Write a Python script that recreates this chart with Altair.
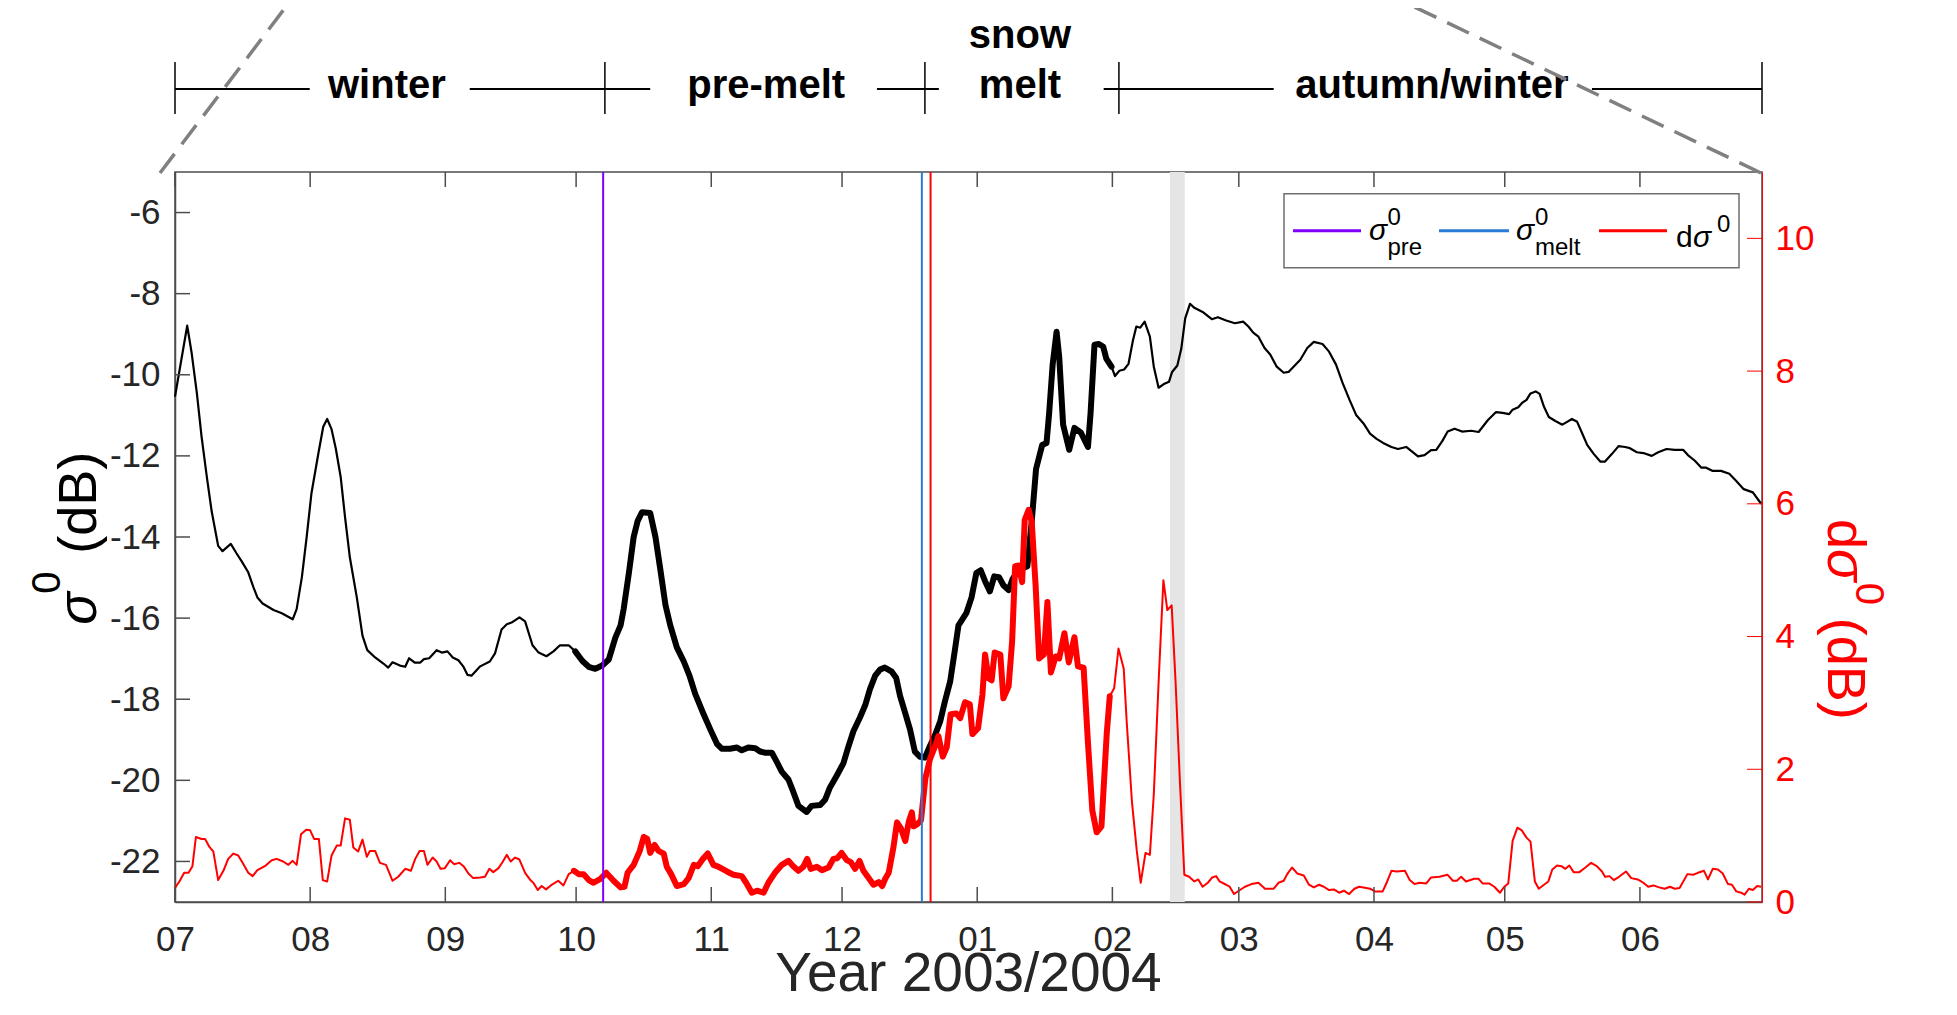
import altair as alt
import pandas as pd

FONT = "Liberation Sans"
AX = "#4d4d4d"
TXT = "#262626"
RED = "#ff0000"
W, H = 1587, 730

BASE = pd.Timestamp("2003-07-01")


def iso(days):
    return [(BASE + pd.Timedelta(days=float(d))).strftime("%Y-%m-%dT%H:%M:%S") + "Z" for d in days]


# ---------------- data (days since 2003-07-01) ----------------
sigma_day = [0, 1.1, 2.8, 3.8, 5.0, 6.1, 7.3, 8.4, 9.9, 10.9, 12.8, 14.1, 15.3, 16.8, 18.0, 18.9, 20.1, 22.6,
             24.5, 27.0, 27.9, 29.1, 30.2, 31.3, 32.9, 34.0, 34.9, 35.9, 36.9, 38.0, 39.0, 40.1, 41.7, 43.0,
             44.1, 45.9, 47.8, 48.9, 49.9, 51.6, 52.8, 53.7, 55.0, 56.2, 57.1, 58.3, 60.0, 61.2, 62.5, 63.7,
             65.0, 66.1, 67.1, 68.0, 70.0, 72.2, 73.4, 74.9, 76.1, 77.2, 79.0, 80.3, 82.0, 83.4, 85.2, 86.8,
             88.3, 90.3, 91.8, 93.4, 94.9, 96.4, 98.0, 99.5, 101.0, 102.2, 102.9, 104.1, 105.2, 106.1, 107.1,
             109.0, 110.2, 111.3, 112.5, 113.6, 115.1, 116.7, 118.0, 119.3, 121.2, 122.8, 124.3, 125.4, 127.3,
             128.9, 130.0, 131.5, 133.1, 134.2, 135.4, 136.9, 138.0, 139.2, 140.7, 141.8, 143.0, 144.9, 146.0,
             148.0, 149.1, 150.2, 151.8, 153.3, 154.4, 155.6, 157.1, 158.3, 159.4, 160.6, 161.7, 162.8, 164.4,
             165.4, 166.3, 167.4, 168.6, 169.7, 170.9, 172.0, 173.2, 174.3, 175.5, 176.6, 177.8, 178.9, 179.7,
             181.5, 182.7, 183.8, 184.8, 185.8, 186.9, 187.9, 189.0, 190.0, 191.2, 192.1, 193.1, 194.3, 195.5,
             196.5, 197.5, 198.9, 199.9, 200.5, 201.3, 202.2, 202.8, 203.7, 205.1, 206.3, 207.8, 209.4, 210.0,
             210.9, 211.9, 212.9, 213.6, 214.8, 215.6, 216.6, 217.7, 218.7, 219.7, 220.5, 221.4, 222.4, 223.6,
             224.5, 225.6, 226.8, 228.0, 228.7, 229.9, 230.8, 231.7, 232.8, 233.8, 235.7, 237.8, 239.2, 241.1,
             243.1, 245.0, 246.2, 247.3, 248.5, 249.9, 251.2, 252.7, 254.3, 255.4, 257.0, 258.1, 259.7, 261.2,
             263.2, 264.7, 266.3, 267.8, 269.4, 270.9, 272.6, 274.1, 275.6, 277.1, 279.0, 280.5, 282.4, 283.6,
             285.1, 286.6, 288.1, 289.3, 290.7, 291.9, 293.5, 295.2, 297.3, 299.0, 301.1, 303.0, 304.5, 306.0,
             306.8, 308.1, 309.0, 310.0, 310.9, 312.1, 313.0, 314.0, 315.1, 316.6, 318.2, 319.3, 320.4, 321.6,
             322.7, 323.9, 325.4, 326.9, 328.0, 329.6, 331.1, 332.6, 333.7, 335.3, 336.8, 338.7, 340.2, 342.1,
             344.0, 345.9, 347.0, 348.6, 350.1, 351.2, 352.7, 354.6, 356.5, 358.1, 359.8, 361.9, 363.8]
sigma_db = [-10.54, -9.85, -8.79, -9.45, -10.44, -11.53, -12.52, -13.36, -14.22, -14.35, -14.17, -14.40, -14.60,
            -14.87, -15.24, -15.49, -15.64, -15.80, -15.88, -16.03, -15.78, -14.99, -14.00, -12.92, -11.93,
            -11.28, -11.09, -11.34, -11.83, -12.52, -13.51, -14.50, -15.49, -16.43, -16.79, -16.97, -17.12,
            -17.22, -17.09, -17.17, -17.20, -16.99, -17.10, -17.10, -17.01, -16.99, -16.79, -16.85, -16.82,
            -16.97, -17.04, -17.19, -17.40, -17.42, -17.19, -17.07, -16.87, -16.28, -16.15, -16.11, -15.98,
            -16.08, -16.67, -16.85, -16.94, -16.82, -16.67, -16.67, -16.82, -17.05, -17.20, -17.25, -17.17,
            -17.02, -16.48, -16.18, -15.78, -14.89, -14.00, -13.61, -13.39, -13.41, -14.00, -14.79, -15.68,
            -16.18, -16.72, -17.07, -17.42, -17.86, -18.36, -18.75, -19.10, -19.22, -19.22, -19.19, -19.26,
            -19.19, -19.21, -19.29, -19.32, -19.32, -19.54, -19.79, -19.98, -20.28, -20.63, -20.78, -20.63,
            -20.61, -20.48, -20.18, -19.88, -19.58, -19.19, -18.79, -18.45, -18.15, -17.75, -17.42, -17.27,
            -17.22, -17.32, -17.47, -17.92, -18.31, -18.75, -19.29, -19.42, -19.44, -19.14, -18.89, -18.55,
            -18.05, -17.56, -16.77, -16.18, -15.88, -15.49, -14.89, -14.82, -15.09, -15.34, -14.97, -14.99,
            -15.19, -15.31, -15.04, -14.87, -14.78, -14.72, -13.61, -12.32, -11.73, -11.68, -10.94, -9.75,
            -8.94, -9.55, -11.23, -11.85, -11.31, -11.43, -11.78, -10.94, -9.26, -9.24, -9.31, -9.60, -9.80,
            -10.03, -9.90, -9.87, -9.73, -9.16, -8.81, -8.84, -8.69, -9.06, -9.80, -10.32, -10.23, -10.17,
            -9.93, -9.77, -9.36, -8.61, -8.25, -8.35, -8.45, -8.63, -8.58, -8.66, -8.73, -8.69, -8.81, -8.96,
            -9.06, -9.34, -9.50, -9.80, -9.95, -9.93, -9.75, -9.63, -9.34, -9.19, -9.24, -9.43, -9.75, -10.20,
            -10.62, -10.99, -11.20, -11.45, -11.58, -11.68, -11.78, -11.83, -11.78, -11.88, -12.01, -11.98,
            -11.86, -11.85, -11.63, -11.40, -11.33, -11.40, -11.38, -11.41, -11.12, -10.92, -10.94, -10.97,
            -10.86, -10.80, -10.69, -10.62, -10.46, -10.41, -10.47, -10.79, -11.04, -11.14, -11.23, -11.16,
            -11.09, -11.16, -11.43, -11.73, -11.95, -12.14, -12.14, -11.95, -11.76, -11.78, -11.81, -11.91,
            -11.93, -12.00, -11.91, -11.83, -11.85, -11.85, -11.98, -12.12, -12.29, -12.29, -12.37, -12.37,
            -12.44, -12.62, -12.82, -12.90, -13.18]

dsigma_day = [0, 1.1, 2.1, 3.1, 4.0, 4.8, 6.1, 6.9, 7.9, 8.8, 9.9, 11.1, 12.2, 13.4, 14.5, 15.5, 16.8, 17.8,
              18.9, 20.6, 22.2, 23.3, 24.8, 26.0, 27.0, 27.9, 28.9, 30.1, 31.0, 31.9, 33.0, 33.9, 34.9, 35.9,
              37.1, 38.0, 39.0, 40.1, 40.9, 42.0, 43.0, 44.0, 44.7, 45.9, 47.0, 48.4, 49.9, 51.2, 52.8, 54.1,
              55.1, 56.1, 57.1, 57.9, 59.1, 60.0, 60.9, 61.9, 63.1, 64.0, 65.2, 66.3, 67.3, 68.4, 70.0, 71.1,
              72.1, 73.0, 74.2, 75.1, 76.1, 77.0, 78.0, 79.0, 80.3, 81.4, 82.3, 83.2, 84.1, 85.1, 86.2, 87.9,
              89.1, 90.3, 91.5, 92.6, 93.7, 94.9, 96.0, 97.6, 98.9, 100.6, 102.2, 103.1, 103.8, 105.2, 106.6,
              107.5, 108.3, 109.0, 110.0, 110.9, 112.1, 112.8, 113.8, 115.1, 116.7, 117.8, 119.0, 119.9, 121.1,
              122.2, 123.5, 124.7, 126.6, 128.1, 130.0, 131.0, 132.3, 133.5, 135.0, 136.1, 137.6, 139.2, 140.7,
              141.8, 143.0, 144.1, 145.0, 145.8, 147.2, 148.4, 149.9, 151.0, 151.9, 152.9, 154.1, 155.0, 156.0,
              157.0, 157.9, 159.1, 160.2, 161.4, 162.2, 162.9, 163.7, 164.8, 165.6, 166.5, 167.5, 168.3, 169.0,
              169.4, 170.2, 171.1, 172.1, 173.2, 174.3, 175.1, 176.1, 177.0, 177.9, 179.2, 180.1, 181.2, 182.3,
              182.9, 184.2, 185.2, 185.8, 186.6, 187.3, 188.0, 189.3, 190.0, 191.2, 192.0, 192.7, 193.5, 194.3,
              194.9, 195.8, 196.5, 197.4, 198.2, 199.3, 200.1, 200.9, 202.0, 202.8, 204.0, 205.0, 206.3, 207.1,
              208.4, 209.4, 210.4, 211.4, 212.5, 213.7, 214.4, 215.4, 216.4, 217.6, 218.3, 219.5, 220.6, 221.5,
              222.6, 223.6, 224.5, 225.6, 226.7, 227.6, 228.6, 229.5, 230.5, 231.5, 232.6, 233.8, 234.7, 235.7,
              236.9, 237.9, 238.8, 239.6, 241.1, 241.9, 242.9, 244.0, 245.4, 246.9, 248.5, 250.0, 252.0, 253.1,
              254.3, 255.1, 256.2, 257.4, 258.9, 260.1, 261.2, 262.4, 263.5, 264.7, 265.8, 267.0, 268.1, 269.3,
              270.5, 271.6, 272.6, 274.1, 275.2, 277.0, 277.9, 279.0, 280.2, 282.1, 283.2, 284.3, 285.5, 287.0,
              288.1, 290.0, 291.9, 293.1, 294.0, 295.0, 296.1, 298.0, 299.0, 299.9, 301.4, 302.6, 303.9, 304.9,
              305.8, 306.8, 307.9, 308.9, 310.0, 310.9, 311.9, 312.8, 314.0, 315.0, 315.9, 317.0, 318.0, 318.9,
              319.8, 320.8, 322.1, 323.5, 324.8, 326.1, 327.3, 328.0, 329.0, 330.0, 331.2, 332.8, 334.0, 335.5,
              336.8, 337.9, 339.1, 340.4, 341.7, 342.9, 344.0, 345.1, 346.9, 348.2, 349.3, 350.7, 351.6, 352.7,
              353.9, 355.0, 356.2, 357.1, 358.1, 359.2, 360.0, 361.0, 361.9, 362.9, 363.8]
dsigma_db = [0.21, 0.32, 0.44, 0.44, 0.54, 0.98, 0.95, 0.95, 0.83, 0.76, 0.33, 0.47, 0.65, 0.73, 0.70, 0.59, 0.44,
             0.39, 0.48, 0.54, 0.63, 0.65, 0.61, 0.56, 0.62, 0.56, 1.02, 1.09, 1.08, 0.95, 0.95, 0.33, 0.31, 0.70,
             0.85, 0.85, 1.26, 1.24, 0.82, 0.76, 0.94, 0.68, 0.77, 0.77, 0.59, 0.56, 0.32, 0.38, 0.50, 0.47, 0.65,
             0.77, 0.77, 0.56, 0.67, 0.61, 0.50, 0.51, 0.63, 0.57, 0.59, 0.53, 0.43, 0.36, 0.37, 0.38, 0.50, 0.45,
             0.51, 0.60, 0.71, 0.61, 0.67, 0.64, 0.44, 0.34, 0.28, 0.18, 0.24, 0.19, 0.25, 0.32, 0.25, 0.42, 0.47,
             0.42, 0.42, 0.33, 0.29, 0.35, 0.44, 0.32, 0.22, 0.23, 0.44, 0.56, 0.77, 0.98, 0.95, 0.74, 0.86, 0.77,
             0.73, 0.53, 0.42, 0.24, 0.27, 0.36, 0.56, 0.54, 0.65, 0.73, 0.56, 0.53, 0.46, 0.41, 0.39, 0.29, 0.14,
             0.17, 0.14, 0.29, 0.44, 0.56, 0.62, 0.54, 0.47, 0.53, 0.65, 0.50, 0.53, 0.48, 0.52, 0.65, 0.66, 0.74,
             0.63, 0.60, 0.50, 0.62, 0.47, 0.36, 0.26, 0.30, 0.24, 0.35, 0.44, 0.83, 1.20, 1.11, 0.92, 1.21, 1.35,
             1.14, 1.17, 1.23, 1.86, 2.16, 2.34, 2.50, 2.19, 2.33, 2.83, 2.84, 2.77, 3.01, 2.98, 2.53, 2.62, 3.13,
             3.73, 3.37, 3.34, 3.76, 3.73, 3.07, 3.25, 3.92, 5.06, 5.07, 4.82, 5.76, 5.91, 5.73, 4.76, 3.67, 3.73,
             4.52, 3.46, 3.70, 3.67, 4.05, 3.61, 3.99, 3.55, 3.53, 2.40, 1.38, 1.05, 1.14, 2.53, 3.10, 3.22, 3.82,
             3.52, 2.70, 1.50, 0.77, 0.29, 0.74, 0.71, 1.62, 3.31, 4.85, 4.40, 4.47, 3.31, 1.80, 0.41, 0.38, 0.31,
             0.34, 0.23, 0.29, 0.37, 0.39, 0.31, 0.26, 0.23, 0.12, 0.17, 0.23, 0.27, 0.29, 0.20, 0.20, 0.29, 0.32,
             0.42, 0.52, 0.43, 0.40, 0.26, 0.22, 0.26, 0.23, 0.18, 0.19, 0.14, 0.17, 0.12, 0.20, 0.23, 0.22, 0.20,
             0.16, 0.16, 0.29, 0.47, 0.46, 0.47, 0.33, 0.27, 0.29, 0.28, 0.37, 0.38, 0.41, 0.32, 0.32, 0.38, 0.31,
             0.35, 0.35, 0.28, 0.28, 0.23, 0.14, 0.23, 0.28, 0.92, 1.12, 1.08, 0.97, 0.91, 0.31, 0.20, 0.26, 0.31,
             0.49, 0.55, 0.54, 0.50, 0.55, 0.45, 0.45, 0.52, 0.59, 0.54, 0.46, 0.38, 0.39, 0.33, 0.38, 0.46, 0.36,
             0.34, 0.29, 0.23, 0.25, 0.22, 0.20, 0.23, 0.20, 0.21, 0.42, 0.41, 0.44, 0.47, 0.34, 0.50, 0.49, 0.43,
             0.27, 0.26, 0.16, 0.14, 0.11, 0.20, 0.18, 0.24, 0.23]

# highlighted (thick) period
thick_from, thick_to = 91.5, 214.9

# axis ticks
month_days = [0, 31, 62, 92, 123, 153, 184, 215, 244, 275, 305, 336]
month_num = [7, 8, 9, 10, 11, 12, 1, 2, 3, 4, 5, 6]
sigma_ticks = [-22, -20, -18, -16, -14, -12, -10, -8, -6]
dsigma_ticks = [0, 2, 4, 6, 8, 10]

# detected events
event_day = [98.2, 171.3, 173.3]
event_name = ["pre", "melt", "dsig"]

# grey band
band_day = [228.2, 231.6]

# season annotation above the plot
phase_bounds = [0, 98.6, 172.0, 216.5, 364.0]
phase_seg_start = [0, 67.6, 161.0, 213.0, 325.0]
phase_seg_end = [30.9, 109.0, 175.2, 252.0, 364.0]
phase_label = ["winter", "pre-melt", "melt", "autumn/winter"]
phase_label_day = [48.6, 135.6, 193.8, 288.3]
phase_top_label = ["snow"]
phase_top_day = [193.8]

# ---------------- tables ----------------
sig_df = pd.DataFrame({"date": iso(sigma_day), "day": sigma_day, "sigma": sigma_db})
dsig_df = pd.DataFrame({"date": iso(dsigma_day), "day": dsigma_day, "dsig": dsigma_db})
month_df = pd.DataFrame({"date": iso(month_days)})
ev_df = pd.DataFrame({"date": iso(event_day), "name": event_name})
band_df = pd.DataFrame({"date": iso([band_day[0]]), "d1": iso([band_day[1]])})
bounds_df = pd.DataFrame({"date": iso(phase_bounds)})
seg_df = pd.DataFrame({"date": iso(phase_seg_start), "d1": iso(phase_seg_end)})
lab_df = pd.DataFrame({"date": iso(phase_label_day), "label": phase_label})
top_df = pd.DataFrame({"date": iso(phase_top_day), "label": phase_top_label})
dummy = pd.DataFrame({"k": [0]})

x_scale = alt.Scale(type="utc", nice=False,
                    domain=[alt.DateTime(year=2003, month=7, date=1, utc=True),
                            alt.DateTime(year=2004, month=6, date=29, utc=True)])
left_scale = alt.Scale(domain=[-23, -5], nice=False, zero=False)
right_scale = alt.Scale(domain=[0, 11], nice=False, zero=False)

month_vals = [alt.DateTime(year=2003 if m >= 7 else 2004, month=m, date=1, utc=True) for m in month_num]

x_axis = alt.Axis(values=month_vals, labelExpr="utcFormat(datum.value, '%m')", title=None, grid=False,
                  ticks=False, labelPadding=20, labelFontSize=35, labelFont=FONT,
                  labelColor=TXT, domainColor=AX, domainWidth=1.5, labelFlush=False,
                  labelOverlap=False)
left_axis = alt.Axis(values=sigma_ticks, labelExpr="'' + datum.value", title=None, grid=False,
                     ticks=False, labelPadding=15, labelFontSize=35, labelFont=FONT,
                     labelColor=TXT, domainColor=AX, domainWidth=1.5, orient="left", labelOverlap=False)
right_axis = alt.Axis(values=dsigma_ticks, title=None, grid=False, ticks=False,
                      labelPadding=13, labelFontSize=35, labelFont=FONT, labelColor=RED,
                      domainColor=RED, domainWidth=1, orient="right", labelOverlap=False)

XA = alt.X("date:T", scale=x_scale, axis=x_axis)
X2 = alt.X2("d1:T")

# ---------------- layers ----------------
band = alt.Chart(band_df).mark_rect(color="#e5e5e5").encode(x=XA, x2=X2)

black_thin = alt.Chart(sig_df).mark_line(color="black", strokeWidth=2.2, strokeJoin="round").encode(
    x=XA, y=alt.Y("sigma:Q", scale=left_scale, axis=left_axis))
black_thick = alt.Chart(sig_df).transform_filter(
    f"datum.day >= {thick_from} && datum.day <= {thick_to}").mark_line(
    color="black", strokeWidth=6, strokeJoin="round", strokeCap="round").encode(
    x=XA, y=alt.Y("sigma:Q", scale=left_scale, axis=None))
left_ticks = alt.Chart(pd.DataFrame({"v": sigma_ticks})).mark_rule(color=AX, strokeWidth=1.5).encode(
    y=alt.Y("v:Q", scale=left_scale, axis=None), x=alt.value(0), x2=alt.value(15))

red_thin = alt.Chart(dsig_df).mark_line(color=RED, strokeWidth=2, strokeJoin="round").encode(
    x=XA, y=alt.Y("dsig:Q", scale=right_scale, axis=right_axis))
red_thick = alt.Chart(dsig_df).transform_filter(
    f"datum.day >= {thick_from} && datum.day <= {thick_to}").mark_line(
    color=RED, strokeWidth=6, strokeJoin="round", strokeCap="round").encode(
    x=XA, y=alt.Y("dsig:Q", scale=right_scale, axis=None))
right_ticks = alt.Chart(pd.DataFrame({"v": dsigma_ticks})).mark_rule(color=RED, strokeWidth=1).encode(
    y=alt.Y("v:Q", scale=right_scale, axis=None), x=alt.value(W - 15), x2=alt.value(W))

events = alt.Chart(ev_df).mark_rule(strokeWidth=2).encode(
    x=XA, color=alt.Color("name:N", legend=None,
                          scale=alt.Scale(domain=event_name, range=["#8000ff", "#2a7bd5", RED])))

xt_bottom = alt.Chart(month_df).mark_rule(color=AX, strokeWidth=1.5).encode(
    x=XA, y=alt.value(H - 15), y2=alt.value(H))
xt_top = alt.Chart(month_df).mark_rule(color=AX, strokeWidth=1.5).encode(
    x=XA, y=alt.value(0), y2=alt.value(15))

# season bar above the plot
seg = alt.Chart(seg_df).mark_rule(color="black", strokeWidth=2).encode(x=XA, x2=X2, y=alt.value(-83))
bounds = alt.Chart(bounds_df).mark_rule(color="black", strokeWidth=1.5).encode(
    x=XA, y=alt.value(-110), y2=alt.value(-58))
labs = alt.Chart(lab_df).mark_text(font=FONT, fontSize=40, fontWeight="bold", color="black",
                                   baseline="alphabetic", align="center").encode(
    x=XA, y=alt.value(-74), text="label:N")
tops = alt.Chart(top_df).mark_text(font=FONT, fontSize=40, fontWeight="bold", color="black",
                                   baseline="alphabetic", align="center").encode(
    x=XA, y=alt.value(-124), text="label:N")

# zoom connector lines
dash_l = alt.Chart(dummy).mark_rule(color="#808080", strokeWidth=3.5, strokeDash=[24, 12]).encode(
    x=alt.value(-15), y=alt.value(1), x2=alt.value(116), y2=alt.value(-172))
dash_r = alt.Chart(dummy).mark_rule(color="#808080", strokeWidth=3.5, strokeDash=[24, 12]).encode(
    x=alt.value(1586), y=alt.value(1), x2=alt.value(1225), y2=alt.value(-172))


def txt(s, x, y, size, color="black", angle=0, align="left", style="normal", weight="normal"):
    return alt.Chart(dummy).mark_text(text=s, font=FONT, fontSize=size, color=color, angle=angle,
                                      align=align, baseline="alphabetic", fontStyle=style,
                                      fontWeight=weight).encode(x=alt.value(x), y=alt.value(y))


def hline(x0, x1, y, color, width=3):
    return alt.Chart(dummy).mark_rule(color=color, strokeWidth=width).encode(
        x=alt.value(x0), x2=alt.value(x1), y=alt.value(y))


# legend
leg_box = alt.Chart(dummy).mark_rect(fill="white", stroke="#6e6e6e", strokeWidth=1.5).encode(
    x=alt.value(1109), x2=alt.value(1564), y=alt.value(21.7), y2=alt.value(95.7))
legend = [
    leg_box,
    hline(1118, 1186, 58.7, "#8000ff"),
    txt("σ", 1194, 67.7, 30, style="italic"),
    txt("0", 1212.5, 52.7, 24),
    txt("pre", 1212.5, 82.7, 24),
    hline(1264, 1334, 58.7, "#2a7bd5"),
    txt("σ", 1341, 67.7, 30, style="italic"),
    txt("0", 1360, 52.7, 24),
    txt("melt", 1360, 82.7, 24),
    hline(1424, 1492, 58.7, RED),
    txt("d", 1501, 74.7, 30),
    txt("σ", 1518, 74.7, 30, style="italic"),
    txt("0", 1542, 59.7, 24),
]

# axis titles
titles = [
    txt("Year 2003/2004", W / 2, H + 89, 55, color=TXT, align="center"),
    txt("σ", -79, 452.7, 54, color="black", angle=270, style="italic"),
    txt("0", -115, 421.7, 40, color="black", angle=270),
    txt("(dB)", -79, 381.7, 54, color="black", angle=270),
    txt("d", W + 66, 347, 54, color=RED, angle=90),
    txt("σ", W + 66, 377, 54, color=RED, angle=90, style="italic"),
    txt("0", W + 94, 410.7, 40, color=RED, angle=90),
    txt("(dB)", W + 66, 547.7, 54, color=RED, angle=90, align="right"),
]

chart = alt.layer(
    band, black_thin, black_thick, left_ticks, red_thin, red_thick, right_ticks, events,
    xt_bottom, xt_top, seg, bounds, labs, tops, dash_l, dash_r, *legend, *titles
).resolve_scale(y="independent").properties(
    width=W, height=H,
    autosize=alt.AutoSizeParams(type="none"),
    padding={"left": 167, "top": 164, "right": 180, "bottom": 101},
).configure(font=FONT).configure_view(stroke=AX, strokeWidth=1.5)

chart.save("out.html", embed_options={"renderer": "svg", "actions": False})
